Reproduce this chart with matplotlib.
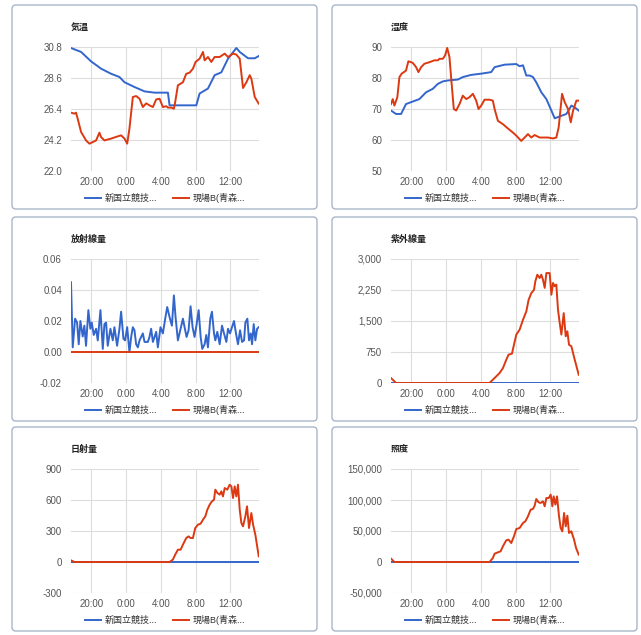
import matplotlib
matplotlib.use("Agg")
import matplotlib.pyplot as plt
from matplotlib.patches import FancyBboxPatch
from matplotlib.ticker import FuncFormatter

plt.rcParams["font.family"] = ["Liberation Sans", "Noto Sans CJK JP", "DejaVu Sans"]

# --- gegevens (uren t.o.v. middernacht, negatief = vorige dag) ---
SERIES_NAMES = ["新国立競技...", "現場B(青森..."]
TICK_HOURS = [-4, 0, 4, 8, 12]
TICK_LABELS = ["20:00", "0:00", "4:00", "8:00", "12:00"]
T_START, T_END = -6.35, 15.3

# 気温
temp_blue_t = [-6.35, -5.19, -4.04, -2.88, -1.73, -0.77, -0.19, 0.96, 2.12, 3.27, 4.81, 5.0,
               8.08, 8.46, 9.42, 10.19, 10.96, 11.73, 12.69, 13.08, 14.04, 14.81, 15.27]
temp_blue_v = [30.73, 30.45, 29.78, 29.26, 28.90, 28.67, 28.30, 27.96, 27.65, 27.56, 27.56, 26.66,
               26.66, 27.50, 27.85, 28.80, 29.00, 29.97, 30.73, 30.45, 30.00, 30.00, 30.16]
temp_red_t = [-6.35, -5.96, -5.77, -5.58, -5.19, -4.62, -4.23, -3.85, -3.46, -3.08, -2.88, -2.50,
              -1.73, -0.96, -0.58, -0.19, 0.12, 0.38, 0.77, 1.15, 1.54, 1.92, 2.31, 2.69, 3.08,
              3.46, 3.85, 4.23, 4.62, 4.81, 5.19, 5.50, 5.65, 5.96, 6.54, 6.92, 7.31, 7.69, 8.0,
              8.46, 8.85, 9.04, 9.42, 9.81, 10.19, 10.77, 11.35, 11.73, 12.31, 12.69, 13.08,
              13.46, 13.85, 14.23, 14.42, 14.81, 15.27]
temp_red_v = [26.14, 26.07, 26.14, 25.71, 24.77, 24.17, 23.94, 24.05, 24.17, 24.72, 24.40, 24.17,
              24.30, 24.46, 24.53, 24.30, 23.94, 25.0, 27.25, 27.32, 27.13, 26.54, 26.80, 26.66, 26.54,
              27.08, 27.13, 26.54, 26.60, 26.50, 26.50, 26.42, 26.90, 28.08, 28.30, 28.90, 28.98, 29.26, 29.74,
              29.97, 30.45, 29.85, 30.09, 29.74, 30.09, 30.09, 30.33, 30.09, 30.33, 30.26, 29.97,
              27.89, 28.30, 28.80, 28.55, 27.25, 26.78]

# 湿度
hum_blue_t = [-6.35, -5.77, -5.19, -4.62, -3.85, -3.08, -2.31, -1.54, -0.96, -0.38, 0.19, 1.35,
              1.92, 2.88, 4.04, 5.19, 5.58, 6.73, 8.08, 8.46, 8.85, 9.23, 9.62, 10.0, 10.38,
              10.96, 11.54, 12.12, 12.5, 13.27, 13.85, 14.42, 14.81, 15.27]
hum_blue_v = [69.5, 68.4, 68.4, 71.6, 72.4, 73.2, 75.4, 76.5, 78.1, 78.9, 79.2, 79.5,
              80.3, 81.0, 81.4, 81.9, 83.5, 84.3, 84.5, 83.8, 84.1, 80.8, 80.8, 80.3, 78.6,
              75.4, 73.2, 69.5, 67.0, 67.8, 68.4, 71.1, 70.5, 69.5]
hum_red_t = [-6.35, -6.15, -5.96, -5.62, -5.38, -5.12, -4.62, -4.35, -3.85, -3.46, -3.19, -2.88,
             -2.50, -1.92, -1.35, -0.96, -0.77, -0.38, -0.12, 0.12, 0.38, 0.65, 0.88, 1.15, 1.54,
             1.92, 2.31, 2.69, 3.08, 3.46, 3.73, 4.04, 4.42, 5.0, 5.38, 5.58, 5.96, 6.54, 7.12,
             7.69, 8.08, 8.65, 9.04, 9.42, 9.81, 10.19, 10.77, 11.35, 11.73, 12.31, 12.69, 12.96,
             13.35, 13.65, 14.04, 14.35, 14.62, 15.0, 15.27]
hum_red_v = [71.6, 73.2, 71.1, 73.8, 80.3, 81.4, 82.4, 85.4, 84.9, 83.5, 81.9, 83.5,
             84.6, 85.1, 85.7, 85.7, 86.2, 86.2, 87.3, 89.7, 86.8, 77.6, 70.0, 69.5, 71.6,
             74.3, 73.2, 73.8, 74.9, 72.7, 70.0, 71.1, 73.0, 73.0, 72.7, 70.0, 66.2, 65.1, 63.7,
             62.4, 61.4, 59.7, 60.8, 61.9, 60.8, 61.6, 60.8, 60.8, 60.8, 60.5, 60.8, 64.1,
             74.9, 72.2, 70.0, 65.7, 69.5, 72.7, 72.7]

# 放射線量
rad_blue_t = [-6.35, -6.15, -5.88, -5.65, -5.46, -5.27, -5.0, -4.81, -4.62, -4.35, -4.12, -3.96,
              -3.73, -3.46, -3.27, -2.96, -2.69, -2.5, -2.31, -2.12, -1.81, -1.54, -1.35, -1.04,
              -0.77, -0.58, -0.31, -0.12, 0.12, 0.38, 0.58, 0.77, 0.96, 1.15, 1.35, 1.54, 1.73,
              1.92, 2.12, 2.31, 2.5, 2.69, 2.88, 3.08, 3.27, 3.46, 3.65, 3.96, 4.23, 4.5, 4.73,
              5.0, 5.27, 5.5, 5.69, 5.96, 6.27, 6.54, 6.73, 6.96, 7.19, 7.42, 7.65, 7.88, 8.12,
              8.35, 8.58, 8.77, 9.04, 9.23, 9.42, 9.69, 9.88, 10.12, 10.27, 10.5, 10.77, 11.04,
              11.27, 11.54, 11.73, 11.96, 12.19, 12.42, 12.65, 12.88, 13.12, 13.35, 13.58, 13.73,
              13.96, 14.15, 14.35, 14.5, 14.69, 14.88, 15.08, 15.27]
rad_blue_v = [0.045, 0.003, 0.0215, 0.019, 0.005, 0.020, 0.010, 0.017, 0.004, 0.027, 0.015, 0.019,
              0.011, 0.015, 0.0075, 0.027, 0.002, 0.018, 0.019, 0.004, 0.015, 0.0075, 0.016, 0.004,
              0.015, 0.026, 0.0086, 0.0075, 0.016, 0.0, 0.0097, 0.016, 0.014, 0.005, 0.003, 0.0075, 0.0097,
              0.012, 0.0065, 0.0065, 0.0065, 0.0097, 0.015, 0.0065, 0.0097, 0.013, 0.003, 0.016, 0.012, 0.0215, 0.029,
              0.0225, 0.017, 0.0365, 0.0225, 0.0075, 0.015, 0.0215, 0.016, 0.0097, 0.014, 0.0295, 0.016, 0.0097, 0.018,
              0.027, 0.0097, 0.002, 0.005, 0.011, 0.003, 0.0215, 0.026, 0.012, 0.0075, 0.013, 0.005, 0.017,
              0.012, 0.0065, 0.015, 0.012, 0.016, 0.020, 0.012, 0.005, 0.014, 0.0065, 0.0075, 0.019,
              0.0215, 0.0075, 0.012, 0.005, 0.018, 0.0075, 0.015, 0.016]
rad_red_t = [-6.35, 15.27]
rad_red_v = [0.0, 0.0]

# 紫外線量
uv_blue_t = [-6.35, 15.27]
uv_blue_v = [0, 0]
uv_red_t = [-6.35, -5.96, -5.77, 5.0, 5.38, 5.77, 6.15, 6.54, 6.92, 7.19, 7.58, 7.81, 8.08, 8.46,
            8.85, 9.23, 9.5, 9.81, 10.12, 10.27, 10.5, 10.77, 10.96, 11.15, 11.35, 11.54, 11.92,
            12.12, 12.31, 12.5, 12.69, 12.88, 13.08, 13.27, 13.54, 13.77, 13.96, 14.15, 14.42,
            14.81, 15.27]
uv_red_v = [120, 40, 0, 0, 80, 160, 240, 360, 560, 685, 710, 925, 1170, 1290,
            1530, 1730, 2015, 2175, 2255, 2460, 2620, 2540, 2620, 2500, 2300, 2660, 2660,
            2135, 2420, 2340, 2380, 1775, 1450, 1170, 1690, 1130, 1250, 925, 890,
            560, 200]

# 日射量
sol_blue_t = [-6.35, 15.27]
sol_blue_v = [0, 0]
sol_red_t = [-6.35, -5.96, 5.0, 5.38, 5.65, 5.96, 6.27, 6.54, 6.92, 7.19, 7.42, 7.69, 7.96, 8.27,
             8.58, 8.85, 9.12, 9.35, 9.62, 9.88, 10.12, 10.27, 10.5, 10.77, 10.96, 11.15, 11.35,
             11.65, 11.92, 12.12, 12.31, 12.5, 12.69, 12.88, 13.08, 13.27, 13.46, 13.73, 13.92,
             14.15, 14.42, 14.62, 14.88, 15.27]
sol_red_v = [16, 0, 0, 23, 71, 119, 119, 168, 232, 248, 232, 232, 329, 361,
             371, 410, 442, 506, 555, 587, 603, 700, 668, 652, 684, 635, 716,
             700, 748, 732, 619, 732, 635, 748, 506, 377, 345, 442, 539,
             329, 474, 361, 264, 55]

# 照度
lux_blue_t = [-6.35, 15.27]
lux_blue_v = [0, 0]
lux_red_t = [-6.35, -5.96, 5.0, 5.38, 5.58, 5.96, 6.27, 6.54, 6.92, 7.19, 7.5, 7.81, 8.08, 8.46,
             8.85, 9.12, 9.42, 9.73, 10.0, 10.19, 10.38, 10.65, 10.88, 11.15, 11.35, 11.54, 11.81,
             12.04, 12.23, 12.38, 12.58, 12.77, 13.0, 13.19, 13.38, 13.58, 13.77, 13.96, 14.15,
             14.42, 14.73, 14.96, 15.27]
lux_red_v = [5400, 0, 0, 6450, 13400, 15600, 17200, 25300, 35000, 36000, 30600, 41400, 53200, 54800,
             62900, 65600, 73600, 84400, 85500, 90800, 101600, 96200, 95200, 97800, 89800, 103200, 103200,
             108600, 89800, 105900, 92500, 105900, 73600, 54800, 49500, 79000, 57500, 74700, 46800,
             49500, 36000, 22600, 11800]

# --- opmaak ---
W, H = 641, 635
BLAUW = "#3366cc"
ROOD = "#dc3912"

BOX_X = [12, 332]
BOX_Y = [5, 217, 427]
BOX_W, BOX_H = 305, 204


def fmt_komma(x, pos):
    return f"{x:,.0f}"


panelen = [
    ("気温", 0, 0, (temp_blue_t, temp_blue_v), (temp_red_t, temp_red_v),
     [22.0, 24.2, 26.4, 28.6, 30.8], lambda x, p: f"{x:.1f}"),
    ("湿度", 1, 0, (hum_blue_t, hum_blue_v), (hum_red_t, hum_red_v),
     [50, 60, 70, 80, 90], lambda x, p: f"{x:.0f}"),
    ("放射線量", 0, 1, (rad_blue_t, rad_blue_v), (rad_red_t, rad_red_v),
     [-0.02, 0.0, 0.02, 0.04, 0.06], lambda x, p: f"{x:.2f}"),
    ("紫外線量", 1, 1, (uv_blue_t, uv_blue_v), (uv_red_t, uv_red_v),
     [0, 750, 1500, 2250, 3000], fmt_komma),
    ("日射量", 0, 2, (sol_blue_t, sol_blue_v), (sol_red_t, sol_red_v),
     [-300, 0, 300, 600, 900], fmt_komma),
    ("照度", 1, 2, (lux_blue_t, lux_blue_v), (lux_red_t, lux_red_v),
     [-50000, 0, 50000, 100000, 150000], fmt_komma),
]

fig = plt.figure(figsize=(W / 100, H / 100), dpi=100)
fig.patch.set_facecolor("white")

for titel, kol, rij, blauw, rood, yticks, fmt in panelen:
    bx, by = BOX_X[kol], BOX_Y[rij]
    # afgeronde kader rond elk paneel
    kader = FancyBboxPatch((bx / W, 1 - (by + BOX_H) / H), BOX_W / W, BOX_H / H,
                           boxstyle="round,pad=0,rounding_size=0.006",
                           transform=fig.transFigure, facecolor="none",
                           edgecolor="#a9b6c9", linewidth=1.0)
    fig.add_artist(kader)

    ax_l, ax_t = bx + 59, by + 42
    ax = fig.add_axes([ax_l / W, 1 - (ax_t + 124) / H, 188 / W, 124 / H])
    l1, = ax.plot(blauw[0], blauw[1], color=BLAUW, lw=1.4, label=SERIES_NAMES[0])
    l2, = ax.plot(rood[0], rood[1], color=ROOD, lw=1.4, label=SERIES_NAMES[1])

    ax.set_xlim(T_START, T_END)
    ax.set_ylim(yticks[0], yticks[-1])
    ax.set_xticks(TICK_HOURS)
    ax.set_xticklabels(TICK_LABELS)
    ax.set_yticks(yticks)
    ax.yaxis.set_major_formatter(FuncFormatter(fmt))
    ax.grid(True, color="#dddddd", linewidth=0.8)
    ax.set_axisbelow(True)
    for s in ax.spines.values():
        s.set_visible(False)
    ax.tick_params(length=0, labelsize=7, colors="#555555")
    ax.tick_params(axis="y", pad=6.5)
    ax.tick_params(axis="x", pad=4)

    fig.text(ax_l / W, 1 - (by + 22) / H, titel, fontsize=6.5, fontweight="bold",
             va="center", ha="left", color="#222222")

    ax.legend(handles=[l1, l2], loc="center", ncol=2, frameon=False,
              bbox_to_anchor=((ax_l + 94) / W, 1 - (by + 193) / H),
              bbox_transform=fig.transFigure, fontsize=6.5, handlelength=1.8,
              handletextpad=0.4, columnspacing=1.8, labelcolor="#333333")

fig.savefig("out.png", dpi=100)
